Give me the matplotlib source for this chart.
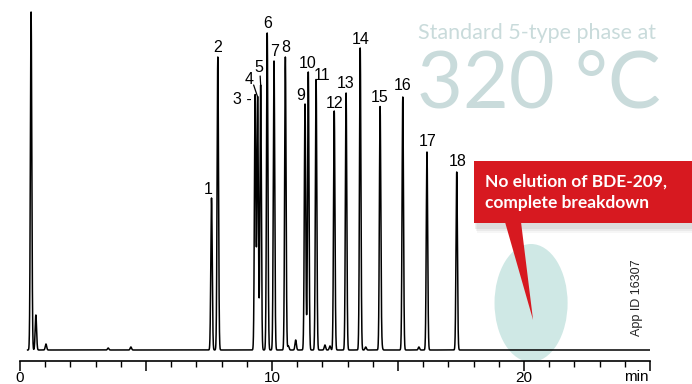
import numpy as np
import matplotlib
matplotlib.use("Agg")
import matplotlib.pyplot as plt
from matplotlib.patches import Ellipse, Polygon, Rectangle

W, H = 692, 384

# peak table: retention time (min) and height (detector units above baseline)
SOLVENT_RT = [0.44, 0.63, 1.03, 3.5, 4.4]
SOLVENT_H = [338, 35, 6, 2, 3]

PEAK_ID = ["1", "2", "3", "4", "5", "6", "7", "8", "9", "10",
           "11", "12", "13", "14", "15", "16", "17", "18"]
PEAK_RT = [7.60, 7.85, 9.33, 9.43, 9.55, 9.81, 10.08, 10.53, 11.31, 11.44,
           11.75, 12.47, 12.94, 13.50, 14.29, 15.19, 16.15, 17.33]
PEAK_H = [152, 293, 255, 253, 265, 317, 289, 293, 246, 278,
          270, 239, 257, 302, 243, 253, 198, 178]

MINOR_RT = [10.65, 10.94, 12.10, 12.30, 13.72, 14.35, 15.83]
MINOR_H = [4, 10, 5, 4, 3, 5, 3]

XTICK_MAJOR = [0, 5, 10, 15, 20, 25]
XTICK_LABELS = ["0", "", "10", "", "20", ""]

# label placement (pixels, relative to the peak apex)
LABEL_TXT = {"3": "3 -"}
LABEL_OFF = {"1": (-3, 9), "3": (-13, -4), "4": (-9, 18), "5": (-2, 17),
             "7": (1, 10), "9": (-4, 8), "10": (-1, 8), "11": (6, 4),
             "12": (0, 8), "16": (0, 11), "17": (1, 11), "18": (1, 10)}
LEADER = {"4": ((-4, 12), (0, 2)), "5": ((-0.5, 9), (0.5, 3))}

plt.rcParams["font.family"] = ["Liberation Sans", "DejaVu Sans"]

t = np.arange(0, 25.0, 0.002)
sig = 0.028
trace = np.zeros_like(t)
for rt, h in zip(SOLVENT_RT + PEAK_RT + MINOR_RT, SOLVENT_H + PEAK_H + MINOR_H):
    trace += h * np.exp(-0.5 * ((t - rt) / sig) ** 2)

fig = plt.figure(figsize=(W / 100, H / 100), dpi=100)
ax = fig.add_axes([20 / W, (H - 361) / H, 630 / W, 361 / H])
ax.set_xlim(0, 25)
ax.set_ylim(-11, 350)
ax.patch.set_alpha(0)

ax.add_patch(Ellipse((20.28, 47), 2.9, 118, facecolor="#cfe8e5", edgecolor="none", zorder=1))
ax.plot(t[t > 0.3], trace[t > 0.3], color="black", lw=1.1, zorder=2)

for pid, rt, h in zip(PEAK_ID, PEAK_RT, PEAK_H):
    dx, dy = LABEL_OFF.get(pid, (0, 9))
    ax.annotate(LABEL_TXT.get(pid, pid), (rt, h), xytext=(dx, dy), textcoords="offset pixels",
                ha="center", va="center", fontsize=11.5, zorder=4)
    if pid in LEADER:
        (x0, y0), (x1, y1) = LEADER[pid]
        ax.annotate("", (rt, h), xytext=(x0, y0), textcoords="offset pixels",
                    arrowprops=dict(arrowstyle="-", lw=0.9, color="black",
                                    shrinkA=0, shrinkB=0, relpos=(0.5, 0.5)))

for s in ["left", "right", "top"]:
    ax.spines[s].set_visible(False)
ax.spines["bottom"].set_linewidth(1.2)
ax.spines["bottom"].set_position(("data", -11))
ax.set_yticks([])
ax.set_xticks(XTICK_MAJOR)
ax.set_xticklabels(XTICK_LABELS, fontsize=11)
ax.set_xticks(np.arange(0, 26, 1), minor=True)
ax.tick_params(axis="x", which="major", length=7, width=1.1, pad=0)
ax.tick_params(axis="x", which="minor", length=4, width=1.0)


def fpx(x, y):
    return x / W, 1 - y / H


fig.text(*fpx(649, 384), "min", ha="right", va="bottom", fontsize=11)
fig.text(*fpx(637, 298), "App ID 16307", rotation=90,
         ha="center", va="center", fontsize=9, color="#222222")

# header text
fig.text(*fpx(418, 39), "Standard 5-type phase at", fontsize=15.5, color="#c9dbdb",
         family=["Lato", "DejaVu Sans"], ha="left", va="baseline")
fig.text(*fpx(417, 108), "320 °C", fontsize=57, color="#c9dbdb",
         family=["Lato", "DejaVu Sans"], ha="left", va="baseline")

# callout box with drop shadow and pointer
for k, a in enumerate([0.05, 0.07, 0.09]):
    fig.patches.append(Rectangle(fpx(474 + 3 - k, 233 - k * 2), (W - 474) / W, 62 / H,
                                 transform=fig.transFigure, facecolor="#555555",
                                 edgecolor="none", alpha=a, zorder=5))
fig.patches.append(Rectangle(fpx(474, 223), (W - 474) / W, 62 / H, transform=fig.transFigure,
                             facecolor="#d71920", edgecolor="none", zorder=6))
tip = fig.transFigure.inverted().transform(ax.transData.transform((20.36, 30)))
fig.patches.append(Polygon([fpx(505, 222), fpx(521, 222), tip], closed=True,
                           transform=fig.transFigure, facecolor="#d71920",
                           edgecolor="none", zorder=6))
fig.text(*fpx(485, 182), "No elution of BDE-209,", fontsize=12.5, color="white",
         family=["Lato", "DejaVu Sans"], fontweight="bold", ha="left", va="center", zorder=7)
fig.text(*fpx(485, 203), "complete breakdown", fontsize=12.5, color="white",
         family=["Lato", "DejaVu Sans"], fontweight="bold", ha="left", va="center", zorder=7)

fig.savefig("out.png", dpi=100)
